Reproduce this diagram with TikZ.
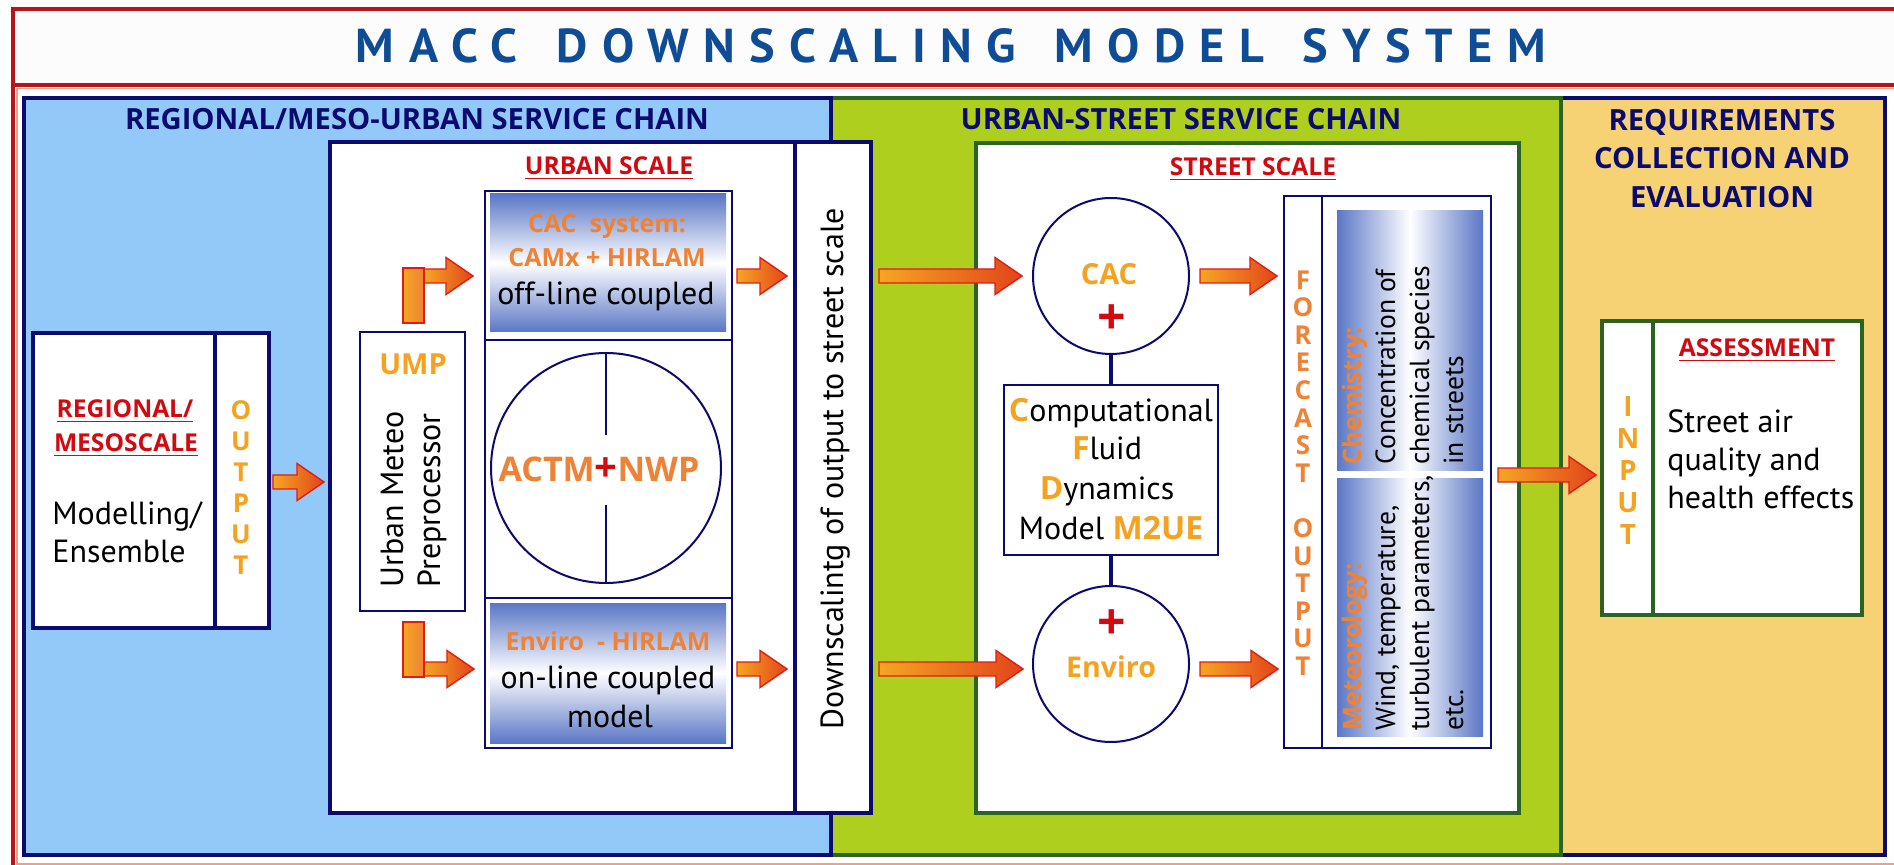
\documentclass[tikz,border=0pt]{standalone}
\usepackage{graphicx}
\usepackage{fontspec}
\setmainfont{PT Sans}
\newfontfamily\boldfam{Open Sans}
\newcommand\bsf{\boldfam\bfseries}
\usetikzlibrary{fit,calc}
\definecolor{navy}{HTML}{0B0B6F}
\definecolor{titleblue}{HTML}{0E4C96}
\definecolor{skyb}{HTML}{92C9F9}
\definecolor{lime}{HTML}{AFCF1F}
\definecolor{dgreen}{HTML}{2B6321}
\definecolor{sand}{HTML}{F6D275}
\definecolor{redt}{HTML}{D10A12}
\definecolor{orA}{HTML}{F4A21F}
\definecolor{orB}{HTML}{EE8236}
\definecolor{gblue}{HTML}{5A77C6}
\definecolor{framered}{HTML}{B8141B}
\definecolor{salmon}{HTML}{EBA08C}
\definecolor{arrL}{HTML}{F5A623}
\definecolor{arrR}{HTML}{E2441A}
\definecolor{arrO}{HTML}{E31B12}
\newcommand\myul[1]{\setbox0=\hbox{#1}\rlap{\rule[-2.2pt]{\wd0}{0.8pt}}\box0}
\newcommand\barrow[2]{%
  \path[blockarrow] let \p1=(#1), \p2=(#2) in
    (\x1,\y1+3.5pt) -- (\x2-13.5pt,\y1+3.5pt) -- (\x2-13.5pt,\y1+9.25pt) -- (\x2,\y1)
    -- (\x2-13.5pt,\y1-9.25pt) -- (\x2-13.5pt,\y1-3.5pt) -- (\x1,\y1-3.5pt) -- cycle;}
\tikzset{
  blockarrow/.style={draw=arrO, line width=0.7pt, left color=arrL, right color=arrR},
  panel/.style={inner sep=0pt, line width=1.8pt},
  thickbox/.style={draw=navy, line width=2pt, fill=white, inner sep=0pt},
  greenbox/.style={draw=dgreen, line width=2pt, fill=white, inner sep=0pt},
  thinbox/.style={draw=navy, line width=0.8pt, inner sep=0pt},
  vgrad/.style={inner sep=0pt, top color=gblue, bottom color=gblue, middle color=white},
  hgrad/.style={inner sep=0pt, left color=gblue, right color=gblue, middle color=white},
  ring/.style={circle, draw=navy, line width=1pt, fill=white, inner sep=0pt},
  link/.style={draw=navy, line width=1.6pt},
  sectitle/.style={text=navy, font=\bsf\fontsize{14.6}{17}\selectfont, anchor=base, inner sep=0pt},
  reqtitle/.style={text=navy, font=\bsf\fontsize{14.6}{19.2}\selectfont, align=center, inner sep=0pt},
  redhead/.style={text=redt, font=\bsf\fontsize{12.3}{14}\selectfont, anchor=base, inner sep=0pt},
  body/.style={text=black, font=\fontsize{16}{19}\selectfont, anchor=base, inner sep=0pt},
  panelbody/.style={text=black, font=\fontsize{13.8}{16}\selectfont, anchor=base west, inner sep=0pt, rotate=90},
  orhead/.style={text=orB, font=\bsf\fontsize{12.5}{16}\selectfont, anchor=base, inner sep=0pt},
  stack/.style={font=\bsf\fontsize{13}{15.5}\selectfont, align=center, inner sep=0pt},
  plus/.style={text=redt, font=\bsf\fontsize{25}{26}\selectfont, inner sep=0pt},
}
\begin{document}
\begin{tikzpicture}[x=0.5pt,y=-0.5pt]
\useasboundingbox (0,0) rectangle (1894,865);
\fill[white] (0,0) rectangle (1894,865);
% frame
\fill[white!99!black] (12.5,9.5) rectangle (1900,85);
\draw[framered, line width=2pt] (12.5,870) -- (12.5,9.5) -- (1900,9.5);
\draw[framered, line width=1.6pt] (12.5,85) -- (1900,85);
\draw[salmon, line width=0.6pt] (17,870) -- (17,88.5) -- (1900,88.5);
\draw[salmon, line width=0.6pt] (17,864) -- (1900,864);
\node[inner sep=0pt, anchor=base, text=titleblue] (title) at (951,63)
  {\resizebox{595pt}{17pt}{\bfseries\addfontfeatures{LetterSpace=30}MACC\hspace{0.8em}DOWNSCALING\hspace{0.8em}MODEL\hspace{0.8em}SYSTEM}};
% panels
\node[panel, fill=sand, draw=navy, fit={(1561,98) (1885,855)}] (reqpanel) {};
\node[panel, fill=lime, draw=dgreen, fit={(831,98) (1561,855)}] (greenpanel) {};
\node[panel, fill=skyb, draw=navy, fit={(24,98) (831,855)}] (bluepanel) {};
\node[sectitle] (t1) at (417,130) {REGIONAL/MESO-URBAN SERVICE CHAIN};
\node[sectitle] (t2) at (1181,130) {URBAN-STREET SERVICE CHAIN};
\node[reqtitle, anchor=north] (t3) at (1722,109) {REQUIREMENTS\\COLLECTION AND\\EVALUATION};
% regional box
\node[thickbox, fit={(33,333) (215,628)}] (reg) {};
\node[thickbox, fit={(215,333) (269,628)}] (regout) {};
\node[redhead] (regh1) at (125,418) {\myul{REGIONAL/}};
\node[redhead] (regh2) at (126,452) {\myul{MESOSCALE}};
\node[body, anchor=base west] (regb1) at (52,524) {Modelling/};
\node[body, anchor=base west] (regb2) at (52,562) {Ensemble};
\node[stack, text=orA] (outl) at (241,488) {O\\U\\T\\P\\U\\T};
% urban box
\node[thickbox, fit={(330,142) (795,813)}] (urban) {};
\node[thickbox, fit={(795,142) (871,813)}] (down) {};
\node[redhead] (urbh) at (609,175) {\myul{URBAN SCALE}};
\node[body, rotate=90, anchor=base] (downt) at (843,469) {Downscalintg of output to street scale};
% UMP
\node[thinbox, fill=white, fit={(360,332) (465,611)}] (ump) {};
\node[text=orA, font=\bsf\fontsize{14.5}{18}\selectfont, anchor=base, inner sep=0pt] (umpt) at (413,375) {UMP};
\node[body, rotate=90, anchor=base west] (ump1) at (403,588) {Urban Meteo};
\node[body, rotate=90, anchor=base west] (ump2) at (440,588) {Preprocessor};
% column
\node[thinbox, fit={(485,191) (732,340)}] (cacbox) {};
\node[thinbox, fit={(485,340) (732,598)}] (midbox) {};
\node[thinbox, fit={(485,598) (732,748)}] (envbox) {};
\node[vgrad, fit={(490,194) (726,332)}] (cacg) {};
\node[vgrad, fit={(490,603) (726,743)}] (envg) {};
\node[orhead] (cac1) at (607,233) {CAC\ \ system:};
\node[orhead] (cac2) at (607,267) {CAMx + HIRLAM};
\node[body] (cac3) at (606,305) {off-line coupled};
\node[orhead] (env1) at (608,650) {Enviro\ \ - HIRLAM};
\node[body] (env2) at (608,688) {on-line coupled};
\node[body] (env3) at (610,727) {model};
\node[ring, minimum size=115pt] (actm) at (606,468) {};
\draw[navy, line width=1pt] (actm.north) -- (606,435);
\draw[navy, line width=1pt] (606,505) -- (actm.south);
\node[text=orB, font=\bsf\fontsize{17}{20}\selectfont, anchor=base, inner sep=0pt, fill=white] (actmt) at (599,482) {ACTM{\color{redt}\fontsize{20}{20}\selectfont+}NWP};
% arrows in urban box
\coordinate (u1s) at (424,276); \coordinate (u1e) at (473,276);
\barrow{u1s}{u1e}
\draw[arrO, line width=0.7pt, left color=arrL, right color=orB] (403,268) rectangle (424,323);
\coordinate (u2s) at (424,669); \coordinate (u2e) at (474,669);
\barrow{u2s}{u2e}
\draw[arrO, line width=0.7pt, left color=arrL, right color=orB] (403,622) rectangle (424,677);
\coordinate (a1s) at (273,482); \coordinate (a1e) at (324,482);
\barrow{a1s}{a1e}
\coordinate (a2s) at (737,276); \coordinate (a2e) at (787,276);
\barrow{a2s}{a2e}
\coordinate (a3s) at (737,669); \coordinate (a3e) at (787,669);
\barrow{a3s}{a3e}
% street box
\node[greenbox, fit={(976,143) (1519,813)}] (street) {};
\node[redhead] (strh) at (1253,176) {\myul{STREET SCALE}};
\node[ring, minimum size=78pt] (cacc) at (1111,276) {};
\node[ring, minimum size=78pt] (envc) at (1111,664) {};
\node[thinbox, fill=white, fit={(1004,385) (1218,555)}] (cfd) {};
\draw[link] (cacc.south) -- (cfd.north);
\draw[link] (cfd.south) -- (envc.north);
\node[text=orA, font=\bsf\fontsize{14.5}{18}\selectfont, anchor=base, inner sep=0pt] (cacct) at (1109,285) {CAC};
\node[plus] (plus1) at (1112,320) {+};
\node[plus] (plus2) at (1112,625) {+};
\node[text=orA, font=\bsf\fontsize{14.3}{18}\selectfont, anchor=base, inner sep=0pt] (envct) at (1111,677) {Enviro};
\node[body] (cfd1) at (1111,422) {{\bsf\color{orA}C}omputational};
\node[body] (cfd2) at (1107,460) {{\bsf\color{orA}F}luid};
\node[body] (cfd3) at (1107,500) {{\bsf\color{orA}D}ynamics};
\node[body] (cfd4) at (1111,539) {Model {\bsf\color{orA}M2UE}};
\coordinate (a4s) at (879,276); \coordinate (a4e) at (1022,276);
\barrow{a4s}{a4e}
\coordinate (a5s) at (879,669); \coordinate (a5e) at (1023,669);
\barrow{a5s}{a5e}
\coordinate (a6s) at (1200,276); \coordinate (a6e) at (1277,276);
\barrow{a6s}{a6e}
\coordinate (a7s) at (1200,669); \coordinate (a7e) at (1278,669);
\barrow{a7s}{a7e}
% forecast box
\node[thinbox, fill=white, fit={(1284,196) (1322,748)}] (fcl) {};
\node[thinbox, fill=white, fit={(1322,196) (1491,748)}] (fcr) {};
\node[stack, text=orB, font=\bsf\fontsize{13}{13.8}\selectfont] (fct) at (1303,473) {F\\O\\R\\E\\C\\A\\S\\T\\~\\O\\U\\T\\P\\U\\T};
\node[hgrad, fit={(1337,211) (1483,471)}] (chemg) {};
\node[hgrad, fit={(1337,479) (1483,736)}] (metg) {};
\node[panelbody, text=orB, font=\bsf\fontsize{12.7}{16}\selectfont] (ch1) at (1361,465) {Chemistry:};
\node[panelbody] (ch2) at (1395,465) {Concentration of};
\node[panelbody] (ch3) at (1429,465) {chemical species};
\node[panelbody] (ch4) at (1463,465) {in streets};
\node[panelbody, text=orB, font=\bsf\fontsize{12.7}{16}\selectfont] (me1) at (1361,731) {Meteorology:};
\node[panelbody] (me2) at (1395,731) {Wind, temperature,};
\node[panelbody] (me3) at (1429,731) {turbulent parameters,};
\node[panelbody] (me4) at (1463,731) {etc.};
% assessment
\node[greenbox, fit={(1602,321) (1653,615)}] (inbox) {};
\node[greenbox, fit={(1653,321) (1862,615)}] (assess) {};
\node[redhead] (assh) at (1757,357) {\myul{ASSESSMENT}};
\node[stack, text=orA, font=\bsf\fontsize{14}{16}\selectfont] (inp) at (1628,471) {I\\N\\P\\U\\T};
\node[body, anchor=base west] (as1) at (1667,433) {Street air};
\node[body, anchor=base west] (as2) at (1667,471) {quality and};
\node[body, anchor=base west] (as3) at (1667,509) {health effects};
\coordinate (a8s) at (1498,475); \coordinate (a8e) at (1596,475);
\barrow{a8s}{a8e}
\end{tikzpicture}
\end{document}
